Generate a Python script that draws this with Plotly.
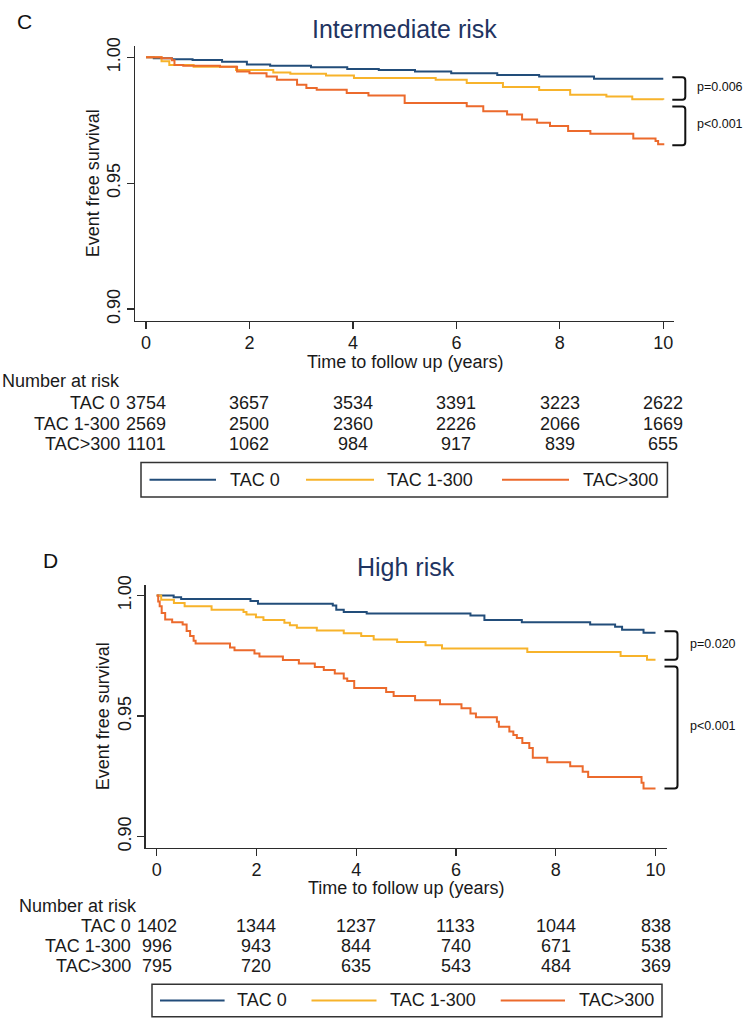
import plotly.graph_objects as go

W, H = 749, 1023
FONT = "Liberation Sans, Arial, Helvetica, sans-serif"

groups = ["TAC 0", "TAC 1-300", "TAC>300"]
colors = ["#224d7a", "#f7b32b", "#ec6a2c"]
risk_times = [0, 2, 4, 6, 8, 10]
x_ticks = [0, 2, 4, 6, 8, 10]
y_ticks = [0.90, 0.95, 1.00]
y_ticktext = ["0.90", "0.95", "1.00"]

# ---------------- Panel C: Intermediate risk ----------------
c_time_tac0 = [0, 0.15, 0.5, 0.9, 1.47, 1.95, 2.4, 3.19, 3.89, 4.5, 5.2, 5.9, 6.79, 7.6, 8.66, 10]
c_surv_tac0 = [1.0, 0.9996, 0.9993, 0.9990, 0.9983, 0.9972, 0.9967, 0.9961, 0.9954, 0.9950,
               0.9944, 0.9937, 0.9930, 0.9924, 0.9915, 0.9915]
c_time_tac1 = [0, 0.3, 0.45, 0.92, 1.74, 2.46, 2.79, 3.48, 4.02, 5.6, 6.2, 6.9, 7.6, 8.2, 8.9, 9.4, 10]
c_surv_tac1 = [1.0, 0.9985, 0.9970, 0.9963, 0.9950, 0.9940, 0.9935, 0.9928, 0.9918, 0.9911,
               0.9898, 0.9882, 0.9870, 0.9852, 0.9845, 0.9834, 0.9832]
c_time_tac300 = [0, 0.3, 0.5, 0.55, 0.72, 1.43, 1.76, 2.0, 2.33, 2.53, 2.92, 3.1, 3.3, 3.88, 4.3,
                 5.0, 6.2, 6.52, 6.98, 7.27, 7.56, 7.81, 8.16, 8.59, 9.42, 9.85, 9.9, 10]
c_surv_tac300 = [1.0, 0.9996, 0.9989, 0.9970, 0.9967, 0.9963, 0.9944, 0.9937, 0.9924, 0.9911,
                 0.9891, 0.9878, 0.9871, 0.9858, 0.9849, 0.9819, 0.9806, 0.9786, 0.9773, 0.9753,
                 0.9740, 0.9727, 0.9708, 0.9697, 0.9678, 0.9668, 0.9655, 0.9651]
c_risk_tac0 = [3754, 3657, 3534, 3391, 3223, 2622]
c_risk_tac1 = [2569, 2500, 2360, 2226, 2066, 1669]
c_risk_tac300 = [1101, 1062, 984, 917, 839, 655]
c_pvalues = ["p=0.006", "p<0.001"]

# ---------------- Panel D: High risk ----------------
d_time_tac0 = [0, 0.34, 0.49, 1.88, 2.03, 3.53, 3.6, 3.75, 4.21, 6.29, 6.57, 7.32, 8.69, 9.19, 9.33, 9.76, 10]
d_surv_tac0 = [1.0, 0.9993, 0.9985, 0.9977, 0.9966, 0.9959, 0.9941, 0.9932, 0.9925, 0.9917,
               0.9898, 0.9889, 0.9880, 0.9870, 0.9858, 0.9846, 0.9846]
d_time_tac1 = [0, 0.09, 0.345, 0.56, 1.1, 1.74, 1.8, 1.99, 2.14, 2.56, 2.67, 2.81, 3.21, 3.75, 4.1,
               4.35, 4.82, 5.39, 5.72, 7.43, 9.3, 9.83, 10]
d_surv_tac1 = [1.0, 0.9982, 0.9969, 0.9955, 0.9941, 0.9932, 0.9921, 0.9910, 0.9898, 0.9887, 0.9877,
               0.9866, 0.9855, 0.9843, 0.9832, 0.9818, 0.9807, 0.9794, 0.9780, 0.9766, 0.9749,
               0.9734, 0.9734]
d_time_tac300 = [0, 0.03, 0.06, 0.1, 0.17, 0.31, 0.52, 0.6, 0.67, 0.74, 0.78, 1.47, 1.56, 1.96, 2.06,
                 2.53, 2.85, 3.17, 3.35, 3.57, 3.75, 3.82, 3.96, 4.6, 4.75, 5.18, 5.68, 6.11, 6.29,
                 6.4, 6.82, 6.86, 7.07, 7.15, 7.22, 7.33, 7.47, 7.54, 7.83, 8.29, 8.54, 8.65, 9.72,
                 9.76, 10]
d_surv_tac300 = [1.0, 0.9975, 0.9955, 0.9927, 0.9900, 0.9889, 0.9880, 0.9853, 0.9832, 0.9812,
                 0.9801, 0.9784, 0.9773, 0.9760, 0.9747, 0.9733, 0.9718, 0.9704, 0.9691, 0.9677,
                 0.9656, 0.9645, 0.9616, 0.9600, 0.9583, 0.9566, 0.9549, 0.9532, 0.9511, 0.9495,
                 0.9477, 0.9456, 0.9436, 0.9422, 0.9409, 0.9388, 0.9368, 0.9327, 0.9309, 0.9292,
                 0.9269, 0.9247, 0.9224, 0.9200, 0.9200]
d_risk_tac0 = [1402, 1344, 1237, 1133, 1044, 838]
d_risk_tac1 = [996, 943, 844, 740, 671, 538]
d_risk_tac300 = [795, 720, 635, 543, 484, 369]
d_pvalues = ["p=0.020", "p<0.001"]

# ---------------- layout geometry (pixels) ----------------
panels = [
    dict(letter="C", title="Intermediate risk", xa="x", ya="y",
         box=(135, 674, 37, 316), xr=[-0.213, 10.207], yr=[0.8953, 1.0047],
         times=[c_time_tac0, c_time_tac1, c_time_tac300],
         survs=[c_surv_tac0, c_surv_tac1, c_surv_tac300],
         risks=[c_risk_tac0, c_risk_tac1, c_risk_tac300], pvals=c_pvalues,
         letter_pos=(24.5, 13), title_y=20, xtitle_y=358, ytitle_x=93,
         nar_x=0, nar_y=377, rows_y=[399.3, 420, 440.7],
         leg_box=(141, 667.5, 459.3, 494.3),
         leg_lines=[(149.5, 216), (306, 374), (502, 569)], leg_text=[228, 385, 580.5]),
    dict(letter="D", title="High risk", xa="x2", ya="y2",
         box=(145.7, 666.5, 583.3, 849.3), xr=[-0.2205, 10.2205], yr=[0.8955, 1.0044],
         times=[d_time_tac0, d_time_tac1, d_time_tac300],
         survs=[d_surv_tac0, d_surv_tac1, d_surv_tac300],
         risks=[d_risk_tac0, d_risk_tac1, d_risk_tac300], pvals=d_pvalues,
         letter_pos=(50, 559), title_y=565, xtitle_y=890, ytitle_x=103,
         nar_x=16.7, nar_y=909, rows_y=[929, 949, 969],
         leg_box=(152, 662, 987.7, 1020.7),
         leg_lines=[(160, 224.6), (311.5, 376.5), (500.7, 565)], leg_text=[235, 388, 576.7]),
]


def pxx(px):
    return px / W


def pxy(py):
    return 1 - py / H


fig = go.Figure()
annotations = []
shapes = []
TXT = "#1a1a1a"
AX = "#2b2b2b"
FS = 18

for i, p in enumerate(panels):
    L, R, T, B = p["box"]
    xr, yr = p["xr"], p["yr"]

    def dx(t, L=L, R=R, xr=xr):
        return L + (t - xr[0]) / (xr[1] - xr[0]) * (R - L)

    def dy(v, T=T, B=B, yr=yr):
        return B - (v - yr[0]) / (yr[1] - yr[0]) * (B - T)

    for g, (tt, ss) in enumerate(zip(p["times"], p["survs"])):
        fig.add_trace(go.Scatter(x=tt, y=ss, mode="lines", line=dict(color=colors[g], width=2, shape="hv"),
                                 name=groups[g], showlegend=False, xaxis=p["xa"], yaxis=p["ya"],
                                 hoverinfo="skip"))

    sfx = "" if i == 0 else "2"
    axis_common = dict(showline=True, linecolor=AX, linewidth=1.5, ticks="outside", ticklen=7,
                       tickwidth=1.3, tickcolor=AX, showgrid=False, zeroline=False,
                       tickfont=dict(family=FONT, size=FS, color=TXT), fixedrange=True)
    fig.layout["xaxis" + sfx] = dict(axis_common, domain=[pxx(L), pxx(R)], range=xr,
                                     tickvals=x_ticks, anchor="y" + sfx, ticklabelstandoff=-2)
    fig.layout["yaxis" + sfx] = dict(axis_common, domain=[pxy(B), pxy(T)], range=yr,
                                     tickvals=y_ticks, ticktext=y_ticktext, tickangle=-90,
                                     anchor="x" + sfx, ticklabelstandoff=-1)

    # panel letter and title
    annotations.append(dict(text=p["letter"], x=pxx(p["letter_pos"][0]), y=pxy(p["letter_pos"][1]),
                            xref="paper", yref="paper", showarrow=False, xanchor="center",
                            yanchor="middle", font=dict(family=FONT, size=21, color="#111")))
    annotations.append(dict(text=p["title"], x=pxx((L + R) / 2), y=pxy(p["title_y"]),
                            xref="paper", yref="paper", showarrow=False, xanchor="center",
                            yanchor="middle", font=dict(family=FONT, size=25, color="#1f3461")))
    # axis titles
    annotations.append(dict(text="Time to follow up (years)", x=pxx((L + R) / 2), y=pxy(p["xtitle_y"]),
                            xref="paper", yref="paper", showarrow=False, xanchor="center",
                            yanchor="middle", font=dict(family=FONT, size=FS, color=TXT)))
    annotations.append(dict(text="Event free survival", x=pxx(p["ytitle_x"]), y=pxy((T + B) / 2),
                            xref="paper", yref="paper", showarrow=False, xanchor="center",
                            yanchor="middle", textangle=-90, font=dict(family=FONT, size=FS, color=TXT)))

    # number at risk table
    annotations.append(dict(text="Number at risk", x=pxx(p["nar_x"]), y=pxy(p["nar_y"]),
                            xref="paper", yref="paper", showarrow=False, xanchor="left",
                            yanchor="middle", font=dict(family=FONT, size=FS, color=TXT)))
    x0px = dx(0)
    for g in range(3):
        ry = p["rows_y"][g]
        annotations.append(dict(text=groups[g], x=pxx(x0px - 24), y=pxy(ry), xref="paper", yref="paper",
                                showarrow=False, xanchor="right", yanchor="middle",
                                font=dict(family=FONT, size=FS, color=TXT)))
        for t, n in zip(risk_times, p["risks"][g]):
            annotations.append(dict(text=str(n), x=t, y=pxy(ry), xref=p["xa"], yref="paper",
                                    showarrow=False, xanchor="center", yanchor="middle",
                                    font=dict(family=FONT, size=FS, color=TXT)))

    # brackets with p-values
    ends = [ss[-1] for ss in p["survs"]]
    tend = p["times"][0][-1]
    bx0, bx1 = dx(tend) + 9, dx(tend) + 22
    spans = [(dy(ends[0]) - 1.5, dy(ends[1])), (dy(ends[1]) + 7, dy(ends[2]))]
    for (y1, y2), ptxt in zip(spans, p["pvals"]):
        r = 3
        path = (f"M {pxx(bx0)},{pxy(y1)} L {pxx(bx1 - r)},{pxy(y1)} "
                f"Q {pxx(bx1)},{pxy(y1)} {pxx(bx1)},{pxy(y1 + r)} "
                f"L {pxx(bx1)},{pxy(y2 - r)} Q {pxx(bx1)},{pxy(y2)} {pxx(bx1 - r)},{pxy(y2)} "
                f"L {pxx(bx0)},{pxy(y2)}")
        shapes.append(dict(type="path", path=path, xref="paper", yref="paper",
                           line=dict(color="#111", width=2)))
        annotations.append(dict(text=ptxt, x=pxx(dx(tend) + 34), y=pxy((y1 + y2) / 2 - 1.5),
                                xref="paper", yref="paper", showarrow=False, xanchor="left",
                                yanchor="middle", borderpad=0, borderwidth=0,
                                font=dict(family=FONT, size=12.5, color="#111")))

    # legend box
    lx0, lx1, ly0, ly1 = p["leg_box"]
    shapes.append(dict(type="rect", xref="paper", yref="paper", x0=pxx(lx0), x1=pxx(lx1),
                       y0=pxy(ly1), y1=pxy(ly0), line=dict(color="#333", width=1.5)))
    ly = (ly0 + ly1) / 2
    for g in range(3):
        a, b = p["leg_lines"][g]
        shapes.append(dict(type="line", xref="paper", yref="paper", x0=pxx(a), x1=pxx(b),
                           y0=pxy(ly), y1=pxy(ly), line=dict(color=colors[g], width=2)))
        annotations.append(dict(text=groups[g], x=pxx(p["leg_text"][g]), y=pxy(ly), xref="paper",
                                yref="paper", showarrow=False, xanchor="left", yanchor="middle",
                                font=dict(family=FONT, size=FS, color=TXT)))

fig.update_layout(width=W, height=H, margin=dict(l=0, r=0, t=0, b=0),
                  paper_bgcolor="white", plot_bgcolor="white", showlegend=False,
                  annotations=annotations, shapes=shapes)
fig.write_html("out.html", config={"displayModeBar": False, "staticPlot": True},
               post_script="document.body.style.margin='0';"
                           "document.body.style.overflow='hidden';")
